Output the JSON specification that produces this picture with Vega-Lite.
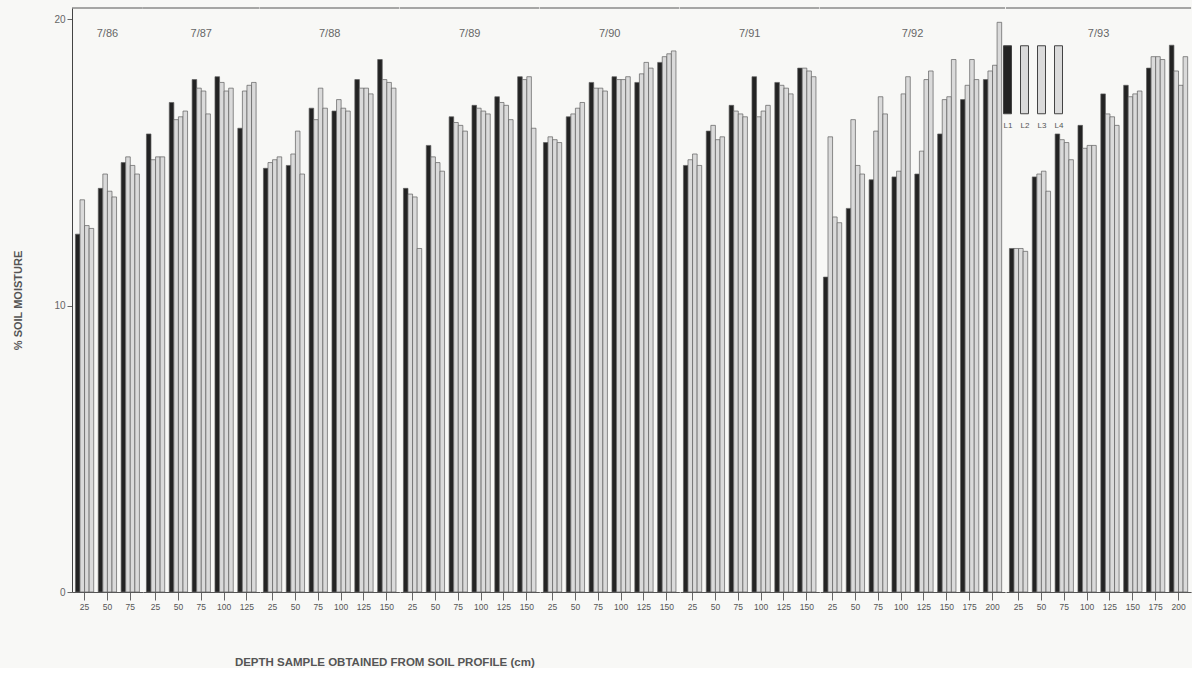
{
  "$schema": "https://vega.github.io/schema/vega-lite/v6.json",
  "background": "#f8f8f6",
  "padding": {"left": 12, "top": 7, "right": 0, "bottom": 0},
  "data": {
    "values": [
      {"year": "7/86", "depth": 25, "L1": 12.5, "L2": 13.7, "L3": 12.8, "L4": 12.7},
      {"year": "7/86", "depth": 50, "L1": 14.1, "L2": 14.6, "L3": 14.0, "L4": 13.8},
      {"year": "7/86", "depth": 75, "L1": 15.0, "L2": 15.2, "L3": 14.9, "L4": 14.6},
      {"year": "7/87", "depth": 25, "L1": 16.0, "L2": 15.1, "L3": 15.2, "L4": 15.2},
      {"year": "7/87", "depth": 50, "L1": 17.1, "L2": 16.5, "L3": 16.6, "L4": 16.8},
      {"year": "7/87", "depth": 75, "L1": 17.9, "L2": 17.6, "L3": 17.5, "L4": 16.7},
      {"year": "7/87", "depth": 100, "L1": 18.0, "L2": 17.8, "L3": 17.5, "L4": 17.6},
      {"year": "7/87", "depth": 125, "L1": 16.2, "L2": 17.5, "L3": 17.7, "L4": 17.8},
      {"year": "7/88", "depth": 25, "L1": 14.8, "L2": 15.0, "L3": 15.1, "L4": 15.2},
      {"year": "7/88", "depth": 50, "L1": 14.9, "L2": 15.3, "L3": 16.1, "L4": 14.6},
      {"year": "7/88", "depth": 75, "L1": 16.9, "L2": 16.5, "L3": 17.6, "L4": 16.9},
      {"year": "7/88", "depth": 100, "L1": 16.8, "L2": 17.2, "L3": 16.9, "L4": 16.8},
      {"year": "7/88", "depth": 125, "L1": 17.9, "L2": 17.6, "L3": 17.6, "L4": 17.4},
      {"year": "7/88", "depth": 150, "L1": 18.6, "L2": 17.9, "L3": 17.8, "L4": 17.6},
      {"year": "7/89", "depth": 25, "L1": 14.1, "L2": 13.9, "L3": 13.8, "L4": 12.0},
      {"year": "7/89", "depth": 50, "L1": 15.6, "L2": 15.2, "L3": 15.0, "L4": 14.7},
      {"year": "7/89", "depth": 75, "L1": 16.6, "L2": 16.4, "L3": 16.3, "L4": 16.1},
      {"year": "7/89", "depth": 100, "L1": 17.0, "L2": 16.9, "L3": 16.8, "L4": 16.7},
      {"year": "7/89", "depth": 125, "L1": 17.3, "L2": 17.1, "L3": 17.0, "L4": 16.5},
      {"year": "7/89", "depth": 150, "L1": 18.0, "L2": 17.9, "L3": 18.0, "L4": 16.2},
      {"year": "7/90", "depth": 25, "L1": 15.7, "L2": 15.9, "L3": 15.8, "L4": 15.7},
      {"year": "7/90", "depth": 50, "L1": 16.6, "L2": 16.7, "L3": 16.9, "L4": 17.1},
      {"year": "7/90", "depth": 75, "L1": 17.8, "L2": 17.6, "L3": 17.6, "L4": 17.5},
      {"year": "7/90", "depth": 100, "L1": 18.0, "L2": 17.9, "L3": 17.9, "L4": 18.0},
      {"year": "7/90", "depth": 125, "L1": 17.8, "L2": 18.1, "L3": 18.5, "L4": 18.3},
      {"year": "7/90", "depth": 150, "L1": 18.5, "L2": 18.7, "L3": 18.8, "L4": 18.9},
      {"year": "7/91", "depth": 25, "L1": 14.9, "L2": 15.1, "L3": 15.3, "L4": 14.9},
      {"year": "7/91", "depth": 50, "L1": 16.1, "L2": 16.3, "L3": 15.8, "L4": 15.9},
      {"year": "7/91", "depth": 75, "L1": 17.0, "L2": 16.8, "L3": 16.7, "L4": 16.6},
      {"year": "7/91", "depth": 100, "L1": 18.0, "L2": 16.6, "L3": 16.8, "L4": 17.0},
      {"year": "7/91", "depth": 125, "L1": 17.8, "L2": 17.7, "L3": 17.6, "L4": 17.4},
      {"year": "7/91", "depth": 150, "L1": 18.3, "L2": 18.3, "L3": 18.2, "L4": 18.0},
      {"year": "7/92", "depth": 25, "L1": 11.0, "L2": 15.9, "L3": 13.1, "L4": 12.9},
      {"year": "7/92", "depth": 50, "L1": 13.4, "L2": 16.5, "L3": 14.9, "L4": 14.6},
      {"year": "7/92", "depth": 75, "L1": 14.4, "L2": 16.1, "L3": 17.3, "L4": 16.7},
      {"year": "7/92", "depth": 100, "L1": 14.5, "L2": 14.7, "L3": 17.4, "L4": 18.0},
      {"year": "7/92", "depth": 125, "L1": 14.6, "L2": 15.4, "L3": 17.9, "L4": 18.2},
      {"year": "7/92", "depth": 150, "L1": 16.0, "L2": 17.2, "L3": 17.3, "L4": 18.6},
      {"year": "7/92", "depth": 175, "L1": 17.2, "L2": 17.7, "L3": 18.6, "L4": 17.9},
      {"year": "7/92", "depth": 200, "L1": 17.9, "L2": 18.2, "L3": 18.4, "L4": 19.9},
      {"year": "7/93", "depth": 25, "L1": 12.0, "L2": 12.0, "L3": 12.0, "L4": 11.9},
      {"year": "7/93", "depth": 50, "L1": 14.5, "L2": 14.6, "L3": 14.7, "L4": 14.0},
      {"year": "7/93", "depth": 75, "L1": 16.0, "L2": 15.8, "L3": 15.7, "L4": 15.1},
      {"year": "7/93", "depth": 100, "L1": 16.3, "L2": 15.5, "L3": 15.6, "L4": 15.6},
      {"year": "7/93", "depth": 125, "L1": 17.4, "L2": 16.7, "L3": 16.6, "L4": 16.3},
      {"year": "7/93", "depth": 150, "L1": 17.7, "L2": 17.3, "L3": 17.4, "L4": 17.5},
      {"year": "7/93", "depth": 175, "L1": 18.3, "L2": 18.7, "L3": 18.7, "L4": 18.6},
      {"year": "7/93", "depth": 200, "L1": 19.1, "L2": 18.2, "L3": 17.7, "L4": 18.7}
    ]
  },
  "transform": [
    {"fold": ["L1", "L2", "L3", "L4"], "as": ["layer", "moisture"]}
  ],
  "title": {
    "text": "DEPTH SAMPLE OBTAINED FROM SOIL PROFILE (cm)",
    "orient": "bottom",
    "anchor": "start",
    "dx": 222,
    "offset": 46,
    "fontSize": 11.5,
    "fontWeight": "bold",
    "color": "#555555",
    "font": "Liberation Sans"
  },
  "facet": {
    "column": {
      "field": "year",
      "type": "ordinal",
      "header": {
        "title": null,
        "labelOrient": "top",
        "labelPadding": -31,
        "labelFontSize": 11,
        "labelColor": "#666666",
        "labelFont": "Liberation Sans"
      }
    }
  },
  "spacing": 0,
  "bounds": "flush",
  "resolve": {"scale": {"x": "independent"}},
  "spec": {
    "width": {"step": 4.57},
    "height": 584,
    "layer": [
      {
        "mark": {"type": "bar", "stroke": "#5e5e5e", "strokeWidth": 0.7},
        "encoding": {
          "x": {
            "field": "depth",
            "type": "ordinal",
            "scale": {"paddingInner": 0.2, "paddingOuter": 0.15},
            "axis": {
              "title": null,
              "labelAngle": 0,
              "labelFontSize": 8.5,
              "labelOverlap": false,
              "labelFlush": false,
              "tickSize": 8,
              "labelPadding": 2,
              "labelColor": "#555555",
              "domainColor": "#555555",
              "tickColor": "#666666"
            }
          },
          "xOffset": {"field": "layer", "type": "nominal", "sort": ["L1", "L2", "L3", "L4"]},
          "y": {
            "field": "moisture",
            "type": "quantitative",
            "scale": {"domain": [0, 20.4], "nice": false},
            "axis": {
              "values": [0, 10, 20],
              "title": "% SOIL MOISTURE",
              "titleColor": "#555555",
              "titleFontSize": 11,
              "titleFontWeight": "bold",
              "titlePadding": 30,
              "labelFontSize": 10,
              "labelColor": "#666666",
              "tickSize": 5,
              "grid": false,
              "domainColor": "#444444",
              "tickColor": "#666666"
            }
          },
          "color": {
            "field": "layer",
            "type": "nominal",
            "scale": {"domain": ["L1", "L2", "L3", "L4"], "range": ["#232323", "#dadada", "#dadada", "#dadada"]},
            "legend": {
              "orient": "none",
              "legendX": 925,
              "legendY": 103,
              "direction": "horizontal",
              "title": null,
              "symbolType": "M-0.4,-7.6H0.4V-0.8H-0.4Z",
              "symbolSize": 400,
              "symbolStrokeColor": "#444444",
              "symbolStrokeWidth": 1,
              "symbolOpacity": 1,
              "labelOffset": -10,
              "labelAlign": "center",
              "labelBaseline": "top",
              "labelFontSize": 8,
              "labelColor": "#555555",
              "columnPadding": 0
            }
          }
        }
      },
      {
        "transform": [{"filter": "datum.depth == 25 && datum.layer == 'L1'"}],
        "mark": {"type": "rule", "color": "#555555", "strokeWidth": 1},
        "encoding": {"y": {"datum": 20.4}}
      }
    ]
  },
  "config": {
    "font": "Liberation Sans",
    "view": {"stroke": null},
    "axis": {"labelFont": "Liberation Sans", "titleFont": "Liberation Sans"}
  }
}
